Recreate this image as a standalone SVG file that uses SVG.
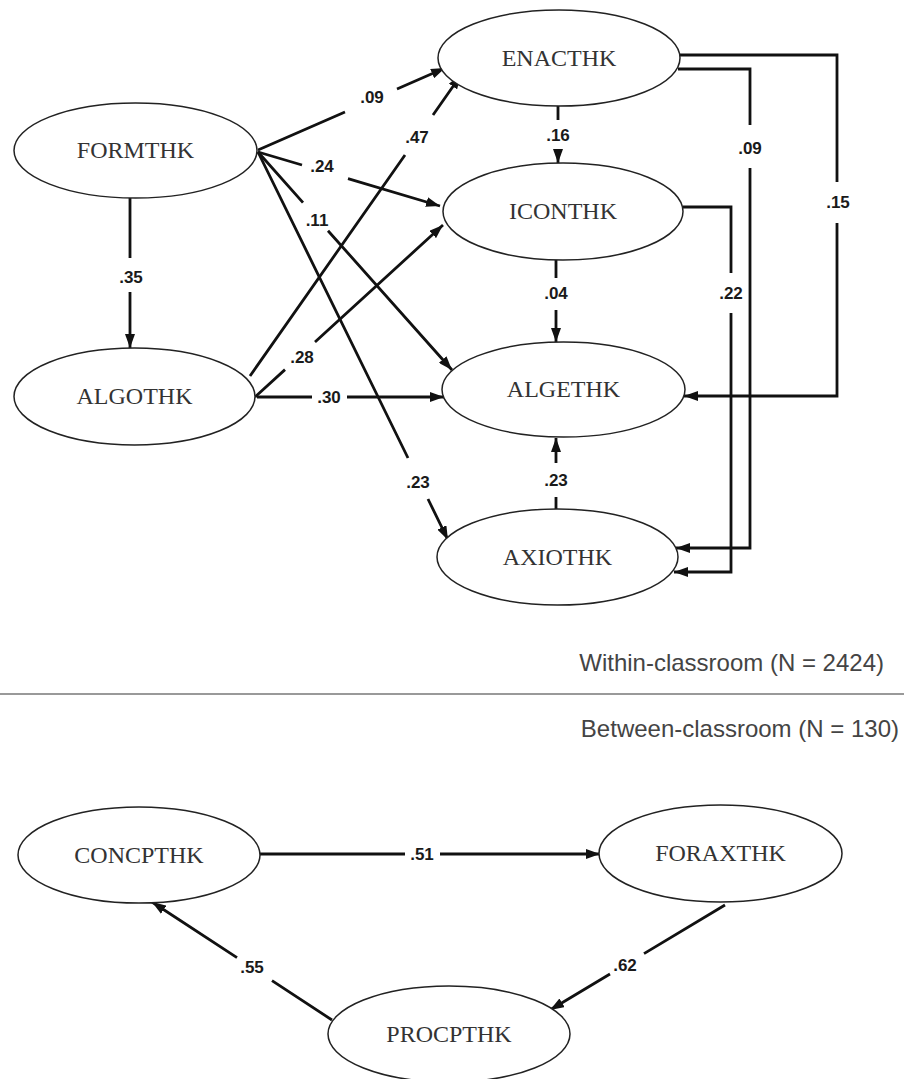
<svg xmlns="http://www.w3.org/2000/svg" width="904" height="1079" viewBox="0 0 904 1079">
<style>
.node ellipse{fill:#fff;stroke:#222;stroke-width:1.5}
.node text{font-family:"Liberation Serif","Times New Roman",serif;font-size:24px;fill:#333;text-anchor:middle}
.edge{fill:none;stroke:#111;stroke-width:2.8;marker-end:url(#arr)}
.lbl{font-family:"Liberation Sans",Arial,sans-serif;font-size:17px;font-weight:bold;fill:#1a1a1a;text-anchor:middle}
.hdr{font-family:"Liberation Sans",Arial,sans-serif;font-size:24px;fill:#444;text-anchor:end}
</style>
<defs>
<marker id="arr" markerUnits="userSpaceOnUse" markerWidth="14" markerHeight="10" refX="14" refY="5" orient="auto">
<path d="M0,0 L14,5 L0,10 z" fill="#111"/>
</marker>
</defs>
<rect width="904" height="1079" fill="#fff"/>
<g id="connectors">
<path class="edge" d="M130,198 V258 M130,292 V348"/>
<path class="edge" d="M258,150 L345,112 M397,89 L445,68"/>
<path class="edge" d="M258,152 L302,165 M348,178.7 L440,206"/>
<path class="edge" d="M258,152 L303,202.6 M328,230.7 L452,370"/>
<path class="edge" d="M258,152 L408,458 M428,499 L448,540"/>
<path class="edge" d="M250,376 L405,155 M433,115 L461,75"/>
<path class="edge" d="M255,397 L285,369.6 M315,342 L443,225"/>
<path class="edge" d="M257,397 H312 M347,397 H444"/>
<path class="edge" d="M558,106 V120 M558,152 V163"/>
<path class="edge" d="M556,260 V278 M556,310 V342"/>
<path class="edge" d="M556,509 V497 M556,463 V438"/>
<path class="edge" d="M680,55 H837 V182 M837,223 V396 H684"/>
<path class="edge" d="M678,69 H750 V125 M750,168 V548 H676"/>
<path class="edge" d="M683,207 H731 V273 M731,313 V572 H674"/>
<path class="edge" d="M260,854 H405 M440,854 H600"/>
<path class="edge" d="M332,1020 L272,980.6 M237,957.7 L152,902"/>
<path class="edge" d="M725,905 L644,953.6 M610,974 L550,1010"/>
<text class="lbl" x="131" y="283">.35</text>
<text class="lbl" x="372" y="103">.09</text>
<text class="lbl" x="322" y="172">.24</text>
<text class="lbl" x="317" y="226">.11</text>
<text class="lbl" x="418" y="488">.23</text>
<text class="lbl" x="417" y="143">.47</text>
<text class="lbl" x="302" y="363">.28</text>
<text class="lbl" x="329" y="403">.30</text>
<text class="lbl" x="558" y="141">.16</text>
<text class="lbl" x="556" y="299">.04</text>
<text class="lbl" x="556" y="486">.23</text>
<text class="lbl" x="838" y="208">.15</text>
<text class="lbl" x="750" y="154">.09</text>
<text class="lbl" x="731" y="299">.22</text>
<text class="lbl" x="422" y="860">.51</text>
<text class="lbl" x="252" y="973">.55</text>
<text class="lbl" x="625" y="971">.62</text>
</g>
<g id="FORMTHK" class="node"><ellipse cx="135.5" cy="150.5" rx="121.5" ry="47.5"/><text x="135.5" y="158">FORMTHK</text></g>
<g id="ALGOTHK" class="node"><ellipse cx="134.5" cy="396.5" rx="120.5" ry="48.5"/><text x="134.5" y="404">ALGOTHK</text></g>
<g id="ENACTHK" class="node"><ellipse cx="559" cy="58" rx="121" ry="48"/><text x="559" y="66">ENACTHK</text></g>
<g id="ICONTHK" class="node"><ellipse cx="563" cy="211.5" rx="120" ry="48.5"/><text x="563" y="219">ICONTHK</text></g>
<g id="ALGETHK" class="node"><ellipse cx="563.5" cy="389.5" rx="121.5" ry="47.5"/><text x="563.5" y="397">ALGETHK</text></g>
<g id="AXIOTHK" class="node"><ellipse cx="557.5" cy="557" rx="120.5" ry="48"/><text x="557.5" y="565">AXIOTHK</text></g>
<text class="hdr" x="884" y="671">Within-classroom (N = 2424)</text>
<line x1="0" y1="694" x2="904" y2="694" stroke="#999" stroke-width="2"/>
<text class="hdr" x="899" y="737">Between-classroom (N = 130)</text>
<g id="CONCPTHK" class="node"><ellipse cx="139" cy="855" rx="121" ry="48"/><text x="139" y="863">CONCPTHK</text></g>
<g id="FORAXTHK" class="node"><ellipse cx="720.5" cy="853.5" rx="121.5" ry="48.5"/><text x="720.5" y="861">FORAXTHK</text></g>
<g id="PROCPTHK" class="node"><ellipse cx="449" cy="1034" rx="121" ry="48"/><text x="449" y="1042">PROCPTHK</text></g>
</svg>
